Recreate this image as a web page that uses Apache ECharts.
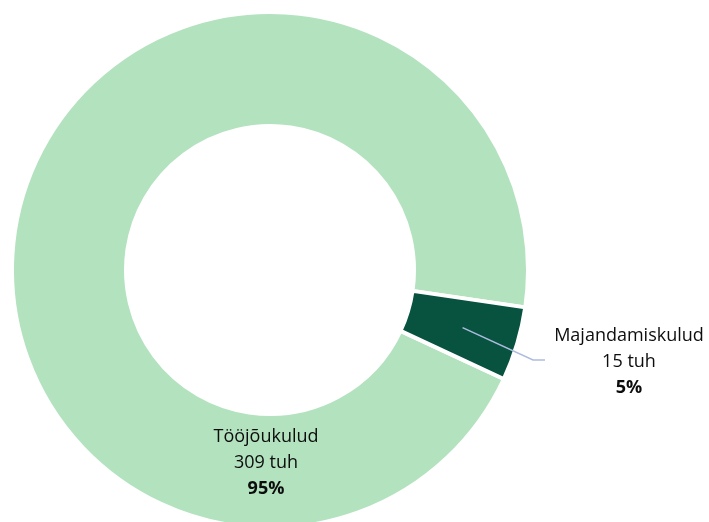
<!DOCTYPE html>
<html>
<head>
<meta charset="utf-8">
<script src="https://cdn.jsdelivr.net/npm/echarts@6/dist/echarts.min.js"></script>
<style>
html,body{margin:0;padding:0;background:#fff;}
#c{width:709px;height:522px;}
</style>
</head>
<body>
<div id="c"></div>
<script>
const categories = ['Tööjõukulud', 'Majandamiskulud'];
const values = [309, 15];
const unit = 'tuh';
const colors = ['#B3E2BF', '#07533F'];

const CX = 270, CY = 270, R0 = 144, R1 = 258, START = -25;
const total = values.reduce((a, b) => a + b, 0);

function midPoint(i, r) {
  let cum = 0;
  for (let k = 0; k < i; k++) cum += values[k];
  const a = (START - (cum + values[i] / 2) / total * 360) * Math.PI / 180;
  return [CX + r * Math.cos(a), CY - r * Math.sin(a)];
}

const chart = echarts.init(document.getElementById('c'), null, {renderer: 'canvas'});
const fontFamily = '"Open Sans", "Noto Sans", sans-serif';
const common = {
  type: 'pie',
  center: [CX, CY],
  radius: [R0, R1],
  startAngle: START,
  clockwise: true,
  avoidLabelOverlap: false
};
chart.setOption({
  animation: false,
  backgroundColor: '#ffffff',
  series: [
    Object.assign({}, common, {
      z: 2,
      itemStyle: {borderColor: '#ffffff', borderWidth: 4},
      label: {show: false},
      labelLine: {show: false},
      data: categories.map((name, i) => ({name: name, value: values[i], itemStyle: {color: colors[i]}}))
    }),
    Object.assign({}, common, {
      z: 5,
      silent: true,
      itemStyle: {color: 'rgba(0,0,0,0)', borderWidth: 0},
      label: {
        show: true,
        position: 'outside',
        formatter: p => '{n|' + p.name + '}\n{n|' + p.value + ' ' + unit + '}\n{b|' + Math.round(p.value / total * 100) + '%}',
        rich: {
          n: {fontFamily: fontFamily, fontSize: 18, color: '#0d0d0d', lineHeight: 26, align: 'center'},
          b: {fontFamily: fontFamily, fontSize: 18, fontWeight: 'bold', color: '#0d0d0d', lineHeight: 26, align: 'center'}
        }
      },
      labelLine: {show: true, lineStyle: {color: '#AEBBE0', width: 1.5}},
      labelLayout: function (p) {
        if (p.dataIndex === 0) {
          return {x: 266, y: 463, align: 'center', verticalAlign: 'middle', hideOverlap: false};
        }
        const s = midPoint(1, (R0 + R1) / 2);
        return {
          x: 629, y: 362, align: 'center', verticalAlign: 'middle',
          labelLinePoints: [s, [533, 360], [545, 360]]
        };
      },
      data: categories.map((name, i) => ({
        name: name,
        value: values[i],
        labelLine: {show: i === 1}
      }))
    })
  ]
});
</script>
</body>
</html>
